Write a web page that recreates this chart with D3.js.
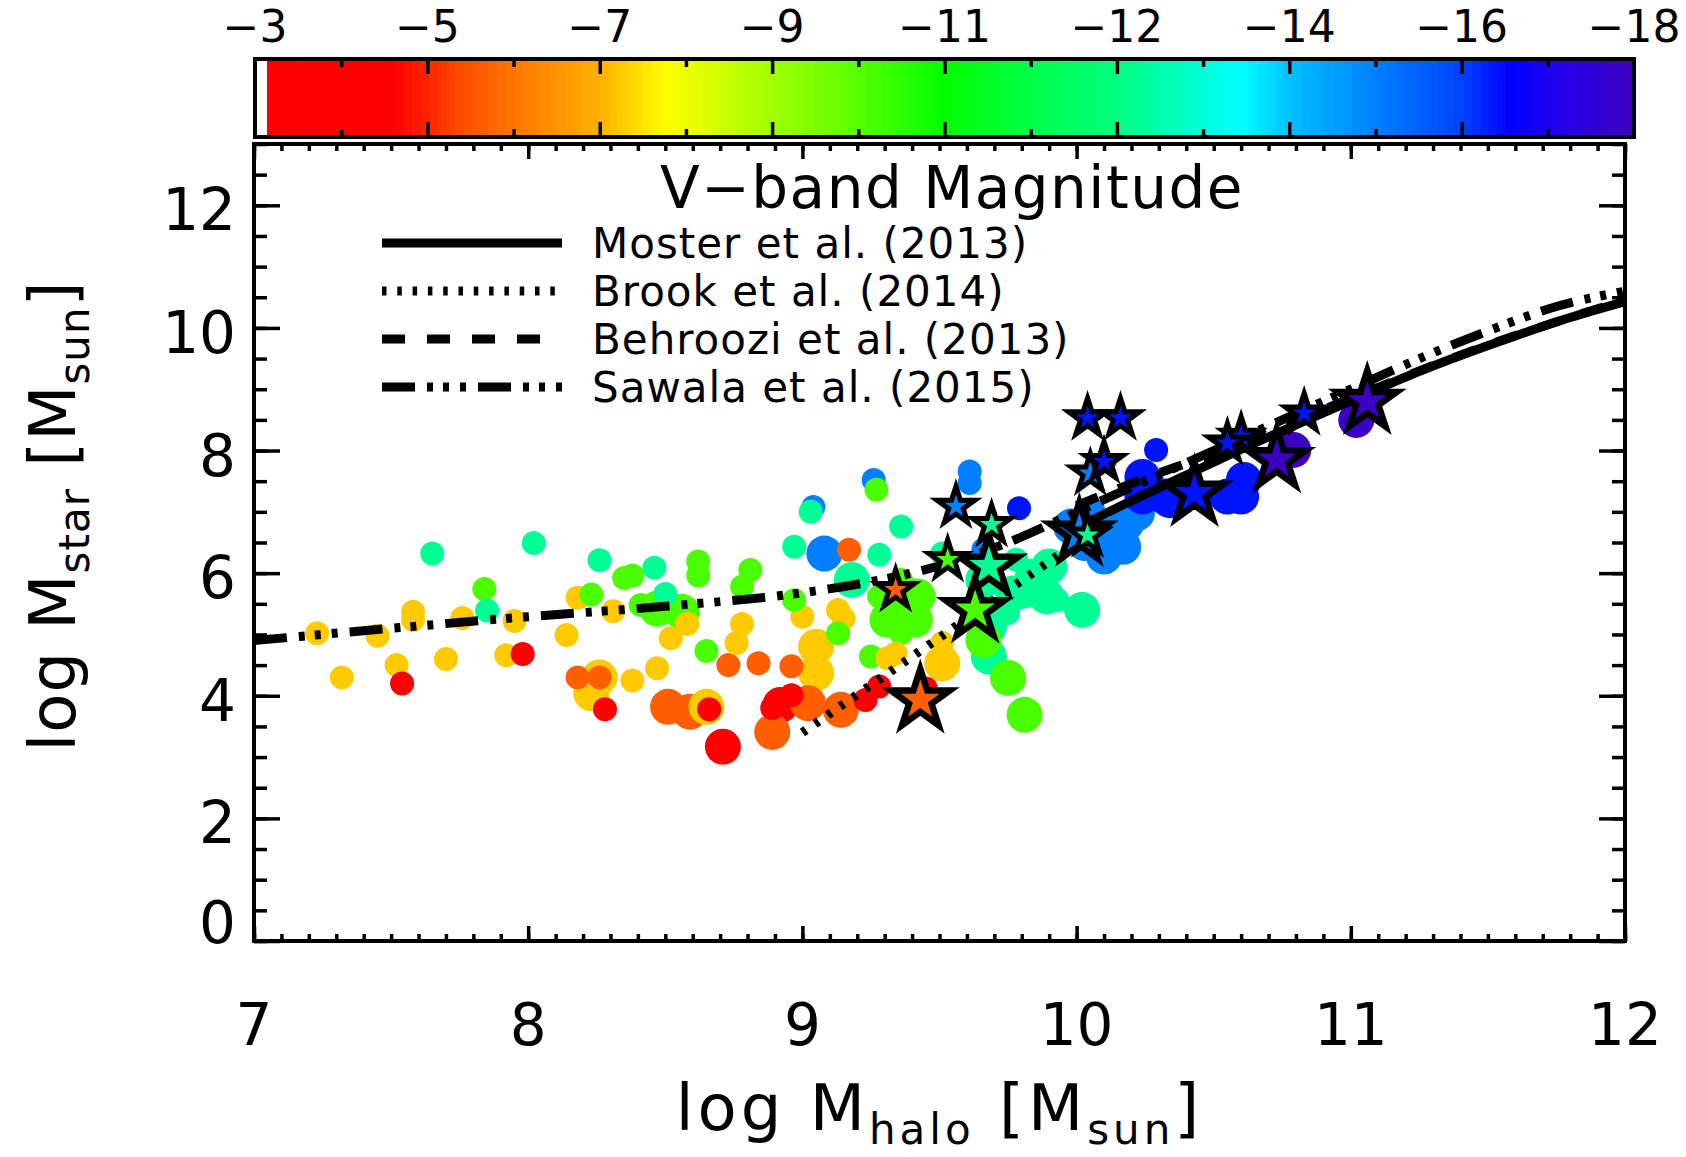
<!DOCTYPE html>
<html>

<head>
  <script src="https://d3js.org/d3.v7.min.js"></script>
  <style>
    body { margin: 0; background: #fff; }
    text { font-family: "DejaVu Sans", sans-serif; fill: #000; }
  </style>
</head>

<body>
  <svg id="chart" width="1686" height="1157"></svg>
  <script>
    // colour table of the V-band bar: [magnitude, colour]
    const colorStops = [
      [-3.13, "#ff0000"], [-4.49, "#ff0000"], [-4.85, "#ff2000"], [-5.2, "#ff4800"],
      [-5.84, "#ff7800"], [-6.75, "#ffb000"], [-7.48, "#ffff00"], [-8.64, "#a0ff00"],
      [-9.4, "#66ff00"], [-10.5, "#00ff00"], [-11.44, "#00ff48"], [-12.38, "#00ff80"],
      [-13.31, "#00ffd8"], [-13.73, "#00ffff"], [-14.25, "#00c0ff"], [-15.18, "#0080ff"],
      [-16.15, "#0040ff"], [-16.65, "#0000ff"], [-17.12, "#2000f0"], [-18, "#4000c0"]
    ];
    const cbarTickLabels = ["\u22123", "\u22125", "\u22127", "\u22129", "\u221211", "\u221212", "\u221214", "\u221216", "\u221218"];
    const xTicks = [7, 8, 9, 10, 11, 12];
    const yTicks = [0, 2, 4, 6, 8, 10, 12];

    // simulated dwarfs: [log Mhalo, log Mstar, V mag, resolution (0 low, 1 high)]
    const galaxies = [
      [7.23, 5.02, -7.0, 0], [7.32, 4.30, -7.0, 0], [7.45, 4.98, -7.0, 0], [7.52, 4.50, -7.0, 0],
      [7.54, 4.20, -4.0, 0], [7.58, 5.37, -7.0, 0], [7.58, 5.24, -7.0, 0], [7.65, 6.32, -12.6, 0],
      [7.70, 4.60, -7.0, 0], [7.76, 5.27, -7.0, 0], [7.84, 5.74, -9.7, 0], [7.85, 5.39, -12.6, 0],
      [7.95, 5.22, -7.0, 0], [7.92, 4.66, -7.0, 0], [7.98, 4.68, -4.0, 0], [8.02, 6.49, -12.6, 0],
      [8.14, 4.99, -7.0, 0], [8.18, 5.60, -7.0, 0], [8.23, 5.65, -9.7, 0], [8.26, 6.21, -12.6, 0],
      [8.31, 5.38, -7.0, 0], [8.23, 4.04, -7.0, 1], [8.26, 4.30, -7.0, 1], [8.18, 4.30, -5.5, 0],
      [8.26, 4.30, -5.5, 0], [8.28, 3.78, -4.0, 0], [8.38, 4.25, -7.0, 0], [8.35, 5.92, -9.7, 0],
      [8.38, 5.96, -9.7, 0], [8.46, 6.09, -12.6, 0], [8.41, 5.48, -9.7, 0], [8.47, 5.42, -9.7, 1],
      [8.50, 5.66, -12.6, 0], [8.56, 5.37, -9.7, 1], [8.47, 4.45, -7.0, 0], [8.52, 4.94, -7.0, 0],
      [8.58, 5.17, -7.0, 0], [8.62, 6.19, -9.7, 0], [8.62, 5.96, -9.7, 0], [8.65, 4.73, -9.7, 0],
      [8.51, 3.82, -5.5, 1], [8.59, 3.74, -5.5, 1], [8.65, 3.82, -7.0, 1], [8.66, 3.78, -4.0, 0],
      [8.71, 3.17, -4.0, 1], [8.73, 4.50, -5.5, 0], [8.78, 5.17, -7.0, 0], [8.76, 4.86, -7.0, 0],
      [8.81, 6.05, -9.7, 0], [8.78, 5.78, -9.7, 0], [8.84, 4.53, -5.5, 0], [8.92, 3.85, -4.0, 1],
      [8.89, 3.41, -5.5, 1], [8.96, 4.01, -4.0, 0], [8.89, 3.80, -4.0, 0], [8.96, 4.48, -5.5, 0],
      [9.00, 5.29, -7.0, 0], [9.05, 4.80, -7.0, 1], [9.05, 4.37, -7.0, 1], [9.13, 5.40, -7.0, 0],
      [9.15, 5.26, -7.0, 0], [9.13, 5.02, -9.7, 0], [8.97, 5.56, -9.7, 0], [9.04, 7.08, -15.2, 0],
      [9.03, 7.00, -12.6, 0], [8.97, 6.43, -12.6, 0], [9.08, 6.32, -15.2, 1], [9.17, 6.38, -5.5, 0],
      [9.26, 7.52, -15.2, 0], [9.27, 7.36, -9.7, 0], [9.36, 6.76, -12.6, 0], [9.28, 6.30, -12.6, 0],
      [9.61, 7.66, -15.2, 0], [9.61, 7.47, -15.2, 0], [9.79, 7.06, -16.5, 0], [9.18, 5.89, -12.6, 1],
      [9.28, 5.62, -9.7, 0], [9.36, 5.67, -9.7, 1], [9.31, 5.24, -9.7, 1], [9.41, 5.24, -9.7, 1],
      [9.36, 5.02, -9.7, 0], [9.25, 4.64, -9.7, 0], [9.34, 4.69, -7.0, 0], [9.31, 4.61, -7.0, 0],
      [9.51, 4.86, -7.0, 0], [9.51, 4.53, -7.0, 1], [9.02, 3.88, -5.5, 1], [9.14, 3.77, -5.5, 1],
      [9.23, 3.93, -4.0, 0], [9.28, 4.15, -4.0, 0], [9.45, 4.12, -4.0, 0], [9.51, 6.32, -12.6, 0],
      [9.66, 5.89, -12.6, 1], [9.77, 5.67, -12.6, 1], [9.84, 5.94, -12.6, 1], [9.89, 5.62, -12.6, 1],
      [10.02, 5.40, -12.6, 1], [9.78, 6.22, -12.6, 0], [9.68, 5.13, -12.6, 1], [9.68, 4.64, -12.6, 1],
      [9.66, 4.91, -9.7, 1], [9.75, 4.29, -9.7, 1], [9.81, 3.69, -9.7, 1], [9.36, 5.89, -9.7, 0],
      [9.42, 5.62, -9.7, 1], [9.90, 6.11, -12.6, 1], [9.88, 5.78, -12.6, 0], [9.81, 5.62, -12.6, 0],
      [9.75, 5.35, -12.6, 0], [9.93, 5.56, -12.6, 0], [9.68, 5.24, -12.6, 0], [9.66, 6.38, -15.2, 0],
      [9.98, 6.76, -15.2, 1], [10.03, 6.49, -15.2, 1], [10.10, 6.27, -15.2, 1], [10.17, 6.43, -15.2, 1],
      [10.18, 6.81, -15.2, 1], [10.12, 6.62, -15.2, 1], [10.06, 7.03, -15.2, 0], [10.22, 6.98, -15.2, 1],
      [10.24, 7.25, -16.5, 1], [10.29, 8.01, -16.5, 0], [10.24, 7.57, -16.5, 1], [10.32, 7.25, -16.5, 1],
      [10.34, 7.19, -16.5, 1], [10.55, 7.25, -16.5, 1], [10.60, 7.25, -16.5, 1], [10.61, 7.52, -16.5, 1],
      [10.79, 8.01, -17.9, 1], [11.02, 8.50, -17.9, 1]
    ];

    // highlighted objects drawn as stars, same columns
    const highlighted = [
      [9.34, 5.73, -5.5, 0], [9.56, 7.09, -15.2, 0], [9.69, 6.79, -12.6, 0], [9.53, 6.22, -9.7, 0],
      [9.68, 6.11, -12.6, 1], [9.63, 5.40, -9.7, 1], [9.43, 3.93, -5.5, 1], [10.01, 6.65, -15.2, 1],
      [10.04, 6.62, -12.6, 0], [10.04, 8.53, -16.5, 0], [10.16, 8.53, -16.5, 0], [10.05, 7.63, -15.2, 0],
      [10.10, 7.82, -16.5, 0], [10.43, 7.30, -16.5, 1], [10.60, 8.23, -16.5, 0], [10.55, 8.12, -16.5, 0],
      [10.73, 7.85, -17.9, 1], [10.83, 8.61, -16.5, 0], [11.06, 8.80, -17.9, 1]
    ];

    // abundance matching relations: [log Mhalo, log Mstar]
    const moster = [[10.0, 6.74], [10.2, 7.18], [10.4, 7.6], [10.6, 8.02], [10.8, 8.42], [11.0, 8.81],
    [11.2, 9.2], [11.4, 9.55], [11.6, 9.87], [11.8, 10.17], [12.0, 10.43]];
    const brook = [[9.0, 3.40], [10.0, 6.50]];
    const behroozi = [[10.0, 7.1], [10.25, 7.55], [10.5, 7.95], [10.75, 8.4], [11.0, 8.85], [11.25, 9.3],
    [11.5, 9.72], [11.75, 10.1], [12.0, 10.45]];
    const sawala = [[7.0, 4.90], [7.5, 5.10], [8.0, 5.29], [8.5, 5.46], [9.0, 5.68], [9.25, 5.86], [9.5, 6.12],
    [9.75, 6.50], [10.0, 7.0], [10.25, 7.5], [10.5, 8.0], [10.75, 8.5], [11.0, 9.0], [11.25, 9.5],
    [11.5, 9.95], [11.75, 10.35], [12.0, 10.6]];
    const relationNames = ["Moster et al. (2013)", "Brook et al. (2014)", "Behroozi et al. (2013)", "Sawala et al. (2015)"];

    const svg = d3.select('#chart');
    const plot = { left: 254, right: 1625, top: 144, bottom: 941 };
    const xScale = d3.scaleLinear().domain([7, 12]).range([plot.left, plot.right]);
    const yScale = d3.scaleLinear().domain([0, 13]).range([plot.bottom, plot.top]);
    const colorScale = d3.scaleLinear()
      .domain(colorStops.map(d => d[0]))
      .range(colorStops.map(d => d[1]))
      .interpolate(d3.interpolateRgb)
      .clamp(true);
    const radius = d3.scaleOrdinal().domain([0, 1]).range([12, 18]);
    const starR = d3.scaleOrdinal().domain([0, 1]).range([20, 31]);
    const starStroke = d3.scaleOrdinal().domain([0, 1]).range([5, 6.5]);

    svg.append('rect').attr('width', 1686).attr('height', 1157).attr('fill', '#fff');

    //colour bar
    const cbar = { left: 255, right: 1634, top: 59, bottom: 137 };
    const cbScale = d3.scaleLinear().domain([-3, -18]).range([cbar.left, cbar.right]);
    const cbLo = colorStops[0][0], cbHi = colorStops[colorStops.length - 1][0];
    const nBands = 160;
    const step = (cbHi - cbLo) / nBands;
    svg.append('g').selectAll('rect').data(d3.range(nBands))
      .join('rect')
      .attr('x', i => cbScale(cbLo + i * step))
      .attr('width', i => cbScale(cbLo + (i + 1) * step) - cbScale(cbLo + i * step) + 0.7)
      .attr('y', cbar.top)
      .attr('height', cbar.bottom - cbar.top)
      .attr('fill', i => colorScale(cbLo + (i + 0.5) * step));

    const nDiv = cbarTickLabels.length - 1;
    const cbMajor = d3.range(nDiv + 1).map(i => -3 - 15 * i / nDiv);
    const cbMinor = d3.range(nDiv).map(i => -3 - 15 * (i + 0.5) / nDiv);
    function tickStyle(g) {
      g.select('.domain').remove();
      g.selectAll('line').attr('stroke-width', 3.5);
    }
    [[d3.axisTop, cbar.top], [d3.axisBottom, cbar.bottom]].forEach(([ax, yy]) => {
      svg.append('g').attr('transform', `translate(0,${yy})`)
        .call(ax(cbScale).tickValues(cbMajor.slice(1, -1)).tickSize(-15).tickFormat(''))
        .call(tickStyle);
      svg.append('g').attr('transform', `translate(0,${yy})`)
        .call(ax(cbScale).tickValues(cbMinor).tickSize(-8).tickFormat(''))
        .call(tickStyle);
    });
    svg.append('rect')
      .attr('x', cbar.left).attr('y', cbar.top)
      .attr('width', cbar.right - cbar.left).attr('height', cbar.bottom - cbar.top)
      .attr('fill', 'none').attr('stroke', '#000').attr('stroke-width', 4);
    svg.append('g').selectAll('text').data(cbMajor)
      .join('text')
      .attr('x', d => cbScale(d))
      .attr('y', 42)
      .attr('text-anchor', 'middle')
      .style('font-size', '44px')
      .text((d, i) => cbarTickLabels[i]);

    //circles, biggest first
    const chartArea = svg.append('g');
    chartArea.append('g').selectAll('circle')
      .data(galaxies.slice().sort((a, b) => b[3] - a[3]))
      .join('circle')
      .attr('cx', d => xScale(d[0]))
      .attr('cy', d => yScale(d[1]))
      .attr('r', d => radius(d[3]))
      .attr('fill', d => colorScale(d[2]));

    //relations
    const line = d3.line().x(d => xScale(d[0])).y(d => yScale(d[1])).curve(d3.curveMonotoneX);
    const styles = [
      { data: moster, dash: null },
      { data: brook, dash: '4.5,10.8' },
      { data: behroozi, dash: '23,22' },
      { data: sawala, dash: '33,12,6,10,6,11,6,12' }
    ];
    styles.forEach(s => {
      chartArea.append('path')
        .datum(s.data)
        .attr('d', line)
        .attr('fill', 'none')
        .attr('stroke', '#000')
        .attr('stroke-width', 9)
        .attr('stroke-dasharray', s.dash);
    });

    //stars
    const star = d3.symbol().type(d3.symbolStar);
    chartArea.append('g').selectAll('path')
      .data(highlighted.slice().sort((a, b) => b[3] - a[3]))
      .join('path')
      .attr('transform', d => `translate(${xScale(d[0])},${yScale(d[1])})`)
      .attr('d', d => star.size(starR(d[3]) * starR(d[3]) / 0.8908)())
      .attr('fill', d => colorScale(d[2]))
      .attr('stroke', '#000')
      .attr('stroke-width', d => starStroke(d[3]))
      .attr('stroke-linejoin', 'miter');

    //axes, ticks inward on all four sides
    const xMinor = d3.range(70, 121).map(d => d / 10);
    const yMinor = d3.range(0, 27).map(d => d / 2);
    const axisDefs = [
      [d3.axisBottom, xScale, `translate(0,${plot.bottom})`, xTicks, xMinor, 15, 7],
      [d3.axisTop, xScale, `translate(0,${plot.top})`, xTicks, xMinor, 15, 7],
      [d3.axisLeft, yScale, `translate(${plot.left},0)`, yTicks, yMinor, 26, 13],
      [d3.axisRight, yScale, `translate(${plot.right},0)`, yTicks, yMinor, 26, 13]
    ];
    axisDefs.forEach(([ax, sc, tr, major, minor, lMaj, lMin]) => {
      svg.append('g').attr('transform', tr)
        .call(ax(sc).tickValues(minor).tickSize(-lMin).tickFormat(''))
        .call(tickStyle);
      svg.append('g').attr('transform', tr)
        .call(ax(sc).tickValues(major).tickSize(-lMaj).tickFormat(''))
        .call(tickStyle);
    });
    svg.append('rect')
      .attr('x', plot.left).attr('y', plot.top)
      .attr('width', plot.right - plot.left).attr('height', plot.bottom - plot.top)
      .attr('fill', 'none').attr('stroke', '#000').attr('stroke-width', 4);

    svg.append('g').selectAll('text').data(xTicks)
      .join('text')
      .attr('x', d => xScale(d))
      .attr('y', plot.bottom + 104)
      .attr('text-anchor', 'middle')
      .style('font-size', '58px')
      .text(d => d);
    svg.append('g').selectAll('text').data(yTicks)
      .join('text')
      .attr('x', plot.left - 18)
      .attr('y', d => Math.min(yScale(d) + 25, plot.bottom + 2))
      .attr('text-anchor', 'end')
      .style('font-size', '58px')
      .text(d => d);

    //axis titles
    function title(sel, sub, spacing) {
      sel.style('font-size', '64px').style('letter-spacing', spacing).attr('text-anchor', 'middle');
      sel.append('tspan').text('log M');
      sel.append('tspan').text(sub).style('font-size', '42px').attr('dy', 14);
      sel.append('tspan').text(' [M').attr('dy', -14);
      sel.append('tspan').text('sun').style('font-size', '42px').attr('dy', 14);
      sel.append('tspan').text(']').attr('dy', -14);
    }
    svg.append('text')
      .attr('x', (plot.left + plot.right) / 2)
      .attr('y', 1130)
      .call(title, 'halo', '4px');
    svg.append('text')
      .attr('transform', `translate(75,516) rotate(-90)`)
      .call(title, 'star', '1px');

    //legend
    svg.append('text')
      .attr('x', 952)
      .attr('y', 208)
      .attr('text-anchor', 'middle')
      .style('font-size', '58px')
      .style('letter-spacing', '1.5px')
      .text('V\u2212band Magnitude');
    let legend = svg.append('g').attr('transform', 'translate(382,243)');
    legend.selectAll('g').data(relationNames)
      .join('g')
      .attr('transform', (d, i) => `translate(0,${i * 48})`)
      .each(function (d, i) {
        const g = d3.select(this);
        g.append('line')
          .attr('x1', 0).attr('x2', 180)
          .attr('stroke', '#000').attr('stroke-width', 9)
          .attr('stroke-dasharray', styles[i].dash);
        g.append('text')
          .attr('x', 210).attr('y', 15)
          .style('font-size', '42px')
          .style('letter-spacing', '1px')
          .text(d);
      });
  </script>
</body>

</html>
